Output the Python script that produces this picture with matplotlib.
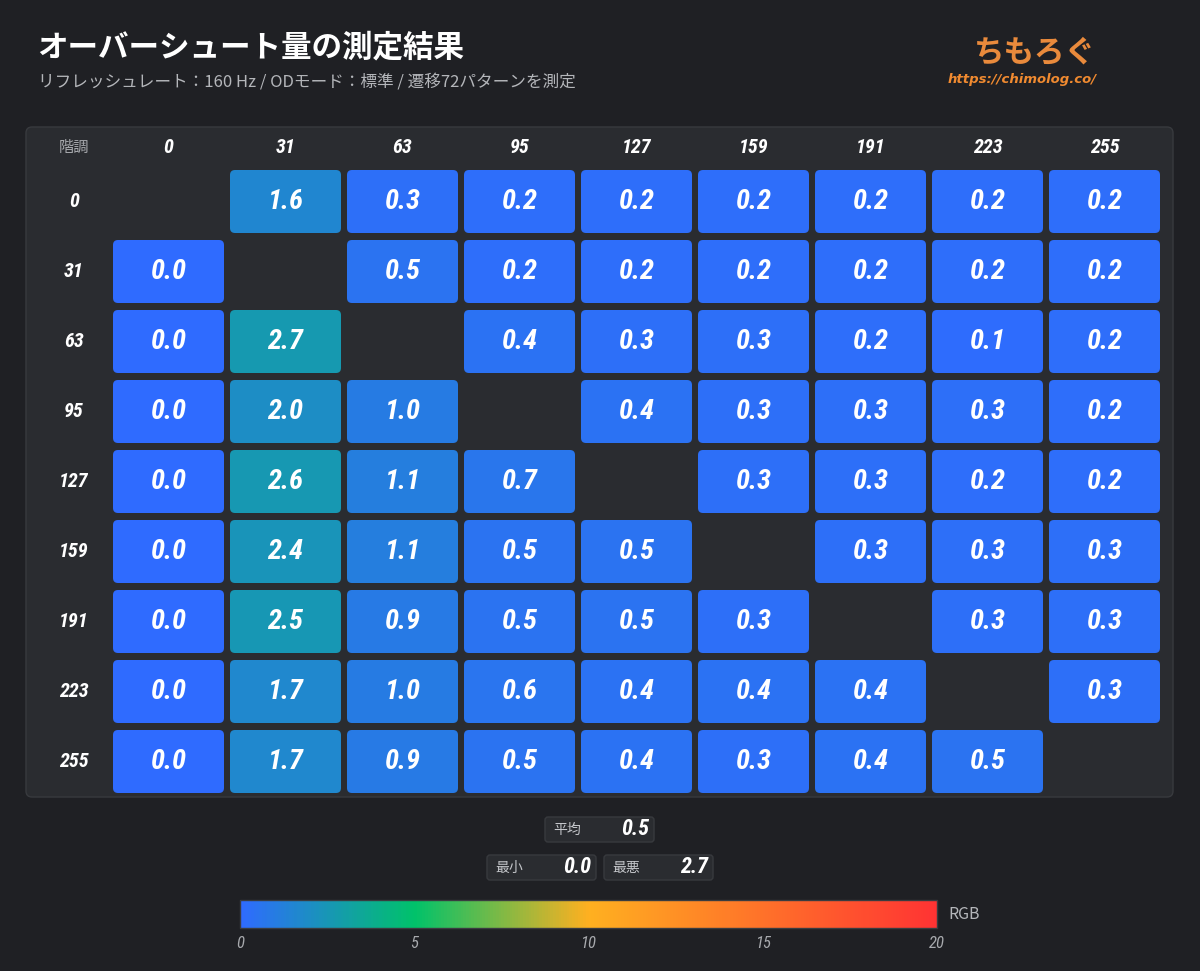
import numpy as np
import matplotlib
matplotlib.use("Agg")
import matplotlib.pyplot as plt
from matplotlib.patches import FancyBboxPatch
from matplotlib.colors import LinearSegmentedColormap, Normalize
from matplotlib.cm import ScalarMappable

plt.rcParams['font.family'] = ['Noto Sans CJK JP', 'DejaVu Sans']

# ---------------- data ----------------
levels = ["0", "31", "63", "95", "127", "159", "191", "223", "255"]
N = np.nan
overshoot = [
    [N, 1.6, 0.3, 0.2, 0.2, 0.2, 0.2, 0.2, 0.2],
    [0.0, N, 0.5, 0.2, 0.2, 0.2, 0.2, 0.2, 0.2],
    [0.0, 2.7, N, 0.4, 0.3, 0.3, 0.2, 0.1, 0.2],
    [0.0, 2.0, 1.0, N, 0.4, 0.3, 0.3, 0.3, 0.2],
    [0.0, 2.6, 1.1, 0.7, N, 0.3, 0.3, 0.2, 0.2],
    [0.0, 2.4, 1.1, 0.5, 0.5, N, 0.3, 0.3, 0.3],
    [0.0, 2.5, 0.9, 0.5, 0.5, 0.3, N, 0.3, 0.3],
    [0.0, 1.7, 1.0, 0.6, 0.4, 0.4, 0.4, N, 0.3],
    [0.0, 1.7, 0.9, 0.5, 0.4, 0.3, 0.4, 0.5, N],
]
stat_avg = 0.5
stat_min = 0.0
stat_max = 2.7
cbar_ticks = [0, 5, 10, 15, 20]
cbar_max = 20

title = "オーバーシュート量の測定結果"
subtitle = "リフレッシュレート：160 Hz / ODモード：標準 / 遷移72パターンを測定"

# ---------------- style ----------------
BG = "#1f2024"
PANEL = "#2a2c30"
EDGE = "#383a3e"
cmap = LinearSegmentedColormap.from_list(
    "od", [(0.0, "#2f6bff"), (0.25, "#00c26a"), (0.5, "#ffb020"), (1.0, "#ff3333")])
norm = Normalize(0, cbar_max)
NUMF = dict(family=['Roboto Condensed', 'DejaVu Sans'], fontstretch='condensed',
            fontweight='bold', fontstyle='italic')

W, H = 1200, 971
fig = plt.figure(figsize=(W / 100, H / 100), dpi=100, facecolor=BG)

# background / decoration axes in pixel coordinates
bg = fig.add_axes([0, 0, 1, 1])
bg.set_xlim(0, W)
bg.set_ylim(H, 0)
bg.axis('off')
bg.set_facecolor(BG)

bg.add_patch(FancyBboxPatch((26, 127), 1147, 670, boxstyle="round,pad=0,rounding_size=6",
                            fc=PANEL, ec=EDGE, lw=1.0))

fig.text(37 / W, 1 - 48 / H, title, color="white", fontsize=22, fontweight='bold',
         va='center', ha='left')
fig.text(38 / W, 1 - 82 / H, subtitle, color="#b4b6ba", fontsize=12.0,
         va='center', ha='left')

# logo text
fig.text(1035 / W, 1 - 53 / H, "ちもろぐ", color="#e98a3c", fontsize=22, fontweight='bold',
         va='center', ha='center')
fig.text(1022 / W, 1 - 79 / H, "https://chimolog.co/", color="#f08a30", fontsize=9.5,
         fontweight='bold', fontstyle='italic', family=['DejaVu Sans'], va='center', ha='center')

# ---------------- heatmap ----------------
ax = fig.add_axes([110 / W, 1 - 796.5 / H, 1053 / W, 630 / H])
ax.set_xlim(-0.5, 8.5)
ax.set_ylim(8.5, -0.5)
ax.axis('off')
cw, ch = 111 / 117, 63 / 70
asp = 117 / 70
for i, row in enumerate(overshoot):
    for j, v in enumerate(row):
        if np.isnan(v):
            continue
        ax.add_patch(FancyBboxPatch((j - cw / 2, i - ch / 2), cw, ch,
                                    boxstyle=f"round,pad=0,rounding_size={5/117}",
                                    mutation_aspect=asp, fc=cmap(norm(v)), ec='none'))
        ax.text(j, i, f"{v:.1f}", color="white", fontsize=20.5, ha='center', va='center', **NUMF)

for j, lab in enumerate(levels):
    ax.text(j, -0.5 - 19.5 / 70, lab, color="white", fontsize=14.5, ha='center', va='center',
            clip_on=False, **NUMF)
for i, lab in enumerate(levels):
    ax.text(-0.5 - 36 / 117, i, lab, color="white", fontsize=14.5, ha='center', va='center',
            clip_on=False, **NUMF)
ax.text(-0.5 - 36 / 117, -0.5 - 19.5 / 70, "階調", color="#a8aaae", fontsize=11,
        ha='center', va='center', clip_on=False)

# ---------------- stats boxes ----------------
def stat_box(x0, y0, label, value):
    bg.add_patch(FancyBboxPatch((x0, y0), 109, 25, boxstyle="round,pad=0,rounding_size=3",
                                fc=PANEL, ec=EDGE, lw=1.0))
    bg.text(x0 + 8, y0 + 13, label, color="#c4c6ca", fontsize=10, ha='left', va='center')
    bg.text(x0 + 104, y0 + 12, f"{value:.1f}", color="white", fontsize=16, ha='right',
            va='center', **NUMF)

stat_box(545, 817, "平均", stat_avg)
stat_box(487, 855, "最小", stat_min)
stat_box(604, 855, "最悪", stat_max)

# ---------------- colorbar ----------------
cax = fig.add_axes([240 / W, 1 - 928 / H, 697 / W, 28 / H])
cb = fig.colorbar(ScalarMappable(norm=norm, cmap=cmap), cax=cax, orientation='horizontal')
cb.set_ticks(cbar_ticks)
cb.outline.set_edgecolor("#3a3c40")
cb.outline.set_linewidth(1.0)
cax.tick_params(length=0, pad=6, colors="#a8aaae")
for t in cax.get_xticklabels():
    t.set_fontsize(12)
    t.set_fontstyle('italic')
    t.set_fontstretch('condensed')
    t.set_family(['Roboto Condensed', 'DejaVu Sans'])
    t.set_color("#a8aaae")
fig.text(948 / W, 1 - 914 / H, "RGB", color="#b4b6ba", fontsize=11.5, ha='left', va='center')

fig.savefig("out.png", dpi=100, facecolor=BG)
